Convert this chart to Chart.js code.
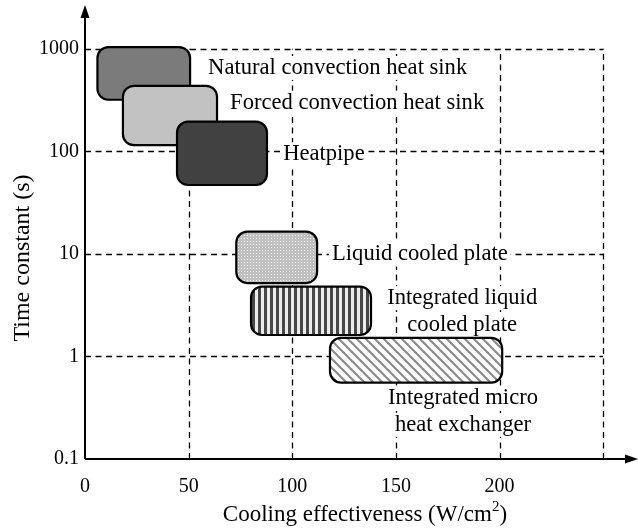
<!DOCTYPE html>
<html>
<head>
<meta charset="utf-8">
<script src="https://cdn.jsdelivr.net/npm/chart.js@4/dist/chart.umd.min.js"></script>
<style>
  html, body { margin: 0; padding: 0; background: #fff; }
  canvas { display: block; }
</style>
</head>
<body>
<canvas id="chart" width="638" height="529"></canvas>
<script>
// Cooling technologies: range of cooling effectiveness (W/cm²) and time constant (s)
const technologies = [
  'Natural convection heat sink',
  'Forced convection heat sink',
  'Heatpipe',
  'Liquid cooled plate',
  'Integrated liquid cooled plate',
  'Integrated micro heat exchanger'
];
const effectivenessMin = [6, 18.3, 44.4, 73, 80.1, 118.2];
const effectivenessMax = [50.7, 63.7, 87.8, 112, 138, 201.3];
const timeConstantMin = [319, 115, 47, 5.2, 1.62, 0.556];
const timeConstantMax = [1040, 436, 195, 16.5, 4.8, 1.52];

const xTickValues = [0, 50, 100, 150, 200, 250];
const xTickLabels = ['0', '50', '100', '150', '200', ''];
const yTickValues = [0.1, 1, 10, 100, 1000];
const yTickLabels = ['0.1', '1', '10', '100', '1000'];

// Annotation text for each region, and where it sits (data units)
const labelLines = [
  ['Natural convection heat sink'],
  ['Forced convection heat sink'],
  ['Heatpipe'],
  ['Liquid cooled plate'],
  ['Integrated liquid', 'cooled plate'],
  ['Integrated micro', 'heat exchanger']
];
const labelX = [59.4, 70, 95.6, 119.2, 182, 182.4];
const labelY = [652, 299, 93.8, 9.86, 3.7, 0.39];
const labelAlign = ['left', 'left', 'left', 'left', 'center', 'center'];

const SERIF = '"Liberation Serif", "Times New Roman", Times, serif';

// ---- fill patterns ----
function tile(w, h, paint) {
  const c = document.createElement('canvas');
  c.width = w; c.height = h;
  paint(c.getContext('2d'), w, h);
  return c;
}
function makeFills(ctx) {
  const dots = tile(3, 3, (g) => {
    g.fillStyle = '#c0c0c0'; g.fillRect(0, 0, 3, 3);
    g.fillStyle = '#ffffff'; g.fillRect(1, 1, 1, 1);
  });
  const stripes = tile(6, 4, (g) => {
    g.fillStyle = '#ececec'; g.fillRect(0, 0, 6, 4);
    g.fillStyle = '#474747'; g.fillRect(0, 0, 3, 4);
  });
  const hatch = tile(9, 9, (g) => {
    g.fillStyle = '#ffffff'; g.fillRect(0, 0, 9, 9);
    g.strokeStyle = '#8a8a8a'; g.lineWidth = 2.2;
    for (let k = -1; k <= 1; k++) {
      g.beginPath(); g.moveTo(k * 9 - 1, -1); g.lineTo(k * 9 + 10, 10); g.stroke();
    }
  });
  return [
    '#7b7b7b',
    '#c2c2c2',
    '#414141',
    ctx.createPattern(dots, 'repeat'),
    ctx.createPattern(stripes, 'repeat'),
    ctx.createPattern(hatch, 'repeat')
  ];
}

function roundedRect(ctx, x, y, w, h, r) {
  ctx.beginPath();
  ctx.moveTo(x + r, y);
  ctx.arcTo(x + w, y, x + w, y + h, r);
  ctx.arcTo(x + w, y + h, x, y + h, r);
  ctx.arcTo(x, y + h, x, y, r);
  ctx.arcTo(x, y, x + w, y, r);
  ctx.closePath();
}

let fills = null;

const diagramPlugin = {
  id: 'diagram',
  beforeDatasetsDraw(chart) {
    const { ctx, scales: { x, y } } = chart;
    ctx.save();
    // dashed reference grid, bounded by 0–250 and 0.1–1000
    ctx.strokeStyle = '#000';
    ctx.lineWidth = 1.3;
    ctx.setLineDash([6, 4.5]);
    const xl = x.getPixelForValue(0), xr = x.getPixelForValue(250);
    const yb = y.getPixelForValue(0.1), yt = y.getPixelForValue(1000);
    yTickValues.slice(1).forEach(v => {
      const py = Math.round(y.getPixelForValue(v)) + 0.5;
      ctx.beginPath(); ctx.moveTo(xl, py); ctx.lineTo(xr, py); ctx.stroke();
    });
    xTickValues.slice(1).forEach(v => {
      const px = Math.round(x.getPixelForValue(v)) + 0.5;
      ctx.beginPath(); ctx.moveTo(px, yb); ctx.lineTo(px, yt); ctx.stroke();
    });
    ctx.setLineDash([]);

    // annotation labels on white backing
    ctx.font = '22.6px ' + SERIF;
    ctx.textBaseline = 'middle';
    labelLines.forEach((lines, i) => {
      const ax = x.getPixelForValue(labelX[i]);
      const ay = y.getPixelForValue(labelY[i]);
      lines.forEach((t, j) => {
        const w = ctx.measureText(t).width;
        const ty = ay + j * 26.5;
        const left = labelAlign[i] === 'center' ? ax - w / 2 : ax;
        ctx.fillStyle = '#fff';
        ctx.fillRect(left - 3, ty - 12, w + 6, 24);
        ctx.fillStyle = '#000';
        ctx.textAlign = 'left';
        ctx.fillText(t, left, ty);
      });
    });
    ctx.restore();
  },
  afterDatasetsDraw(chart) {
    const { ctx, scales: { x, y } } = chart;
    if (!fills) fills = makeFills(ctx);
    ctx.save();
    // one rounded region per technology
    chart.data.datasets.forEach((ds, i) => {
      const [p0, p1] = ds.data;
      const x0 = x.getPixelForValue(p0.x), x1 = x.getPixelForValue(p1.x);
      const y0 = y.getPixelForValue(p1.y), y1 = y.getPixelForValue(p0.y);
      roundedRect(ctx, x0, y0, x1 - x0, y1 - y0, 11);
      ctx.fillStyle = fills[i];
      ctx.fill();
      ctx.lineWidth = 2.2;
      ctx.strokeStyle = '#000';
      ctx.stroke();
    });

    // axes with arrowheads
    const ox = Math.round(x.getPixelForValue(0)), oy = Math.round(y.getPixelForValue(0.1));
    ctx.strokeStyle = '#000';
    ctx.fillStyle = '#000';
    ctx.lineWidth = 2;
    ctx.beginPath(); ctx.moveTo(ox, oy); ctx.lineTo(ox, 14); ctx.stroke();
    ctx.beginPath(); ctx.moveTo(ox, oy); ctx.lineTo(628, oy); ctx.stroke();
    ctx.beginPath(); ctx.moveTo(ox, 5); ctx.lineTo(ox - 4.5, 18); ctx.lineTo(ox + 4.5, 18); ctx.closePath(); ctx.fill();
    ctx.beginPath(); ctx.moveTo(638, oy); ctx.lineTo(625, oy - 4.5); ctx.lineTo(625, oy + 4.5); ctx.closePath(); ctx.fill();

    // axis titles
    ctx.textBaseline = 'middle';
    ctx.textAlign = 'left';
    const main = 'Cooling effectiveness (W/cm';
    const sup = '2';
    const tail = ')';
    ctx.font = '23px ' + SERIF;
    const wMain = ctx.measureText(main).width;
    const wTail = ctx.measureText(tail).width;
    ctx.font = '15px ' + SERIF;
    const wSup = ctx.measureText(sup).width;
    const total = wMain + wSup + wTail;
    const tx = 365 - total / 2;
    const ty = 515;
    ctx.font = '23px ' + SERIF;
    ctx.fillText(main, tx, ty);
    ctx.font = '15px ' + SERIF;
    ctx.fillText(sup, tx + wMain, ty - 8);
    ctx.font = '23px ' + SERIF;
    ctx.fillText(tail, tx + wMain + wSup, ty);

    ctx.font = '24px ' + SERIF;
    ctx.translate(23, 258);
    ctx.rotate(-Math.PI / 2);
    ctx.textAlign = 'center';
    ctx.fillText('Time constant (s)', 0, 0);
    ctx.restore();
  }
};

const datasets = technologies.map((name, i) => ({
  label: name,
  data: [
    { x: effectivenessMin[i], y: timeConstantMin[i] },
    { x: effectivenessMax[i], y: timeConstantMax[i] }
  ],
  pointRadius: 0,
  pointHoverRadius: 0,
  showLine: false
}));

new Chart(document.getElementById('chart'), {
  type: 'scatter',
  data: { datasets },
  plugins: [diagramPlugin],
  options: {
    responsive: false,
    animation: false,
    events: [],
    layout: { padding: { top: 15, right: 10, left: 0, bottom: 0 } },
    plugins: { legend: { display: false }, tooltip: { enabled: false } },
    scales: {
      x: {
        type: 'linear',
        min: 0,
        max: 262,
        grid: { display: false, drawTicks: false },
        border: { display: false },
        afterBuildTicks: (s) => { s.ticks = xTickValues.map(v => ({ value: v })); },
        afterFit: (s) => { s.height = 70; },
        ticks: {
          padding: 16,
          color: '#000',
          font: { family: SERIF, size: 20 },
          maxRotation: 0,
          autoSkip: false,
          callback: (v, i) => xTickLabels[i]
        }
      },
      y: {
        type: 'logarithmic',
        min: 0.1,
        max: 2000,
        grid: { display: false, drawTicks: false },
        border: { display: false },
        afterBuildTicks: (s) => { s.ticks = yTickValues.map(v => ({ value: v })); },
        afterFit: (s) => { s.width = 85; },
        ticks: {
          padding: 6,
          color: '#000',
          font: { family: SERIF, size: 20 },
          autoSkip: false,
          callback: (v, i) => yTickLabels[i]
        }
      }
    }
  }
});
</script>
</body>
</html>
